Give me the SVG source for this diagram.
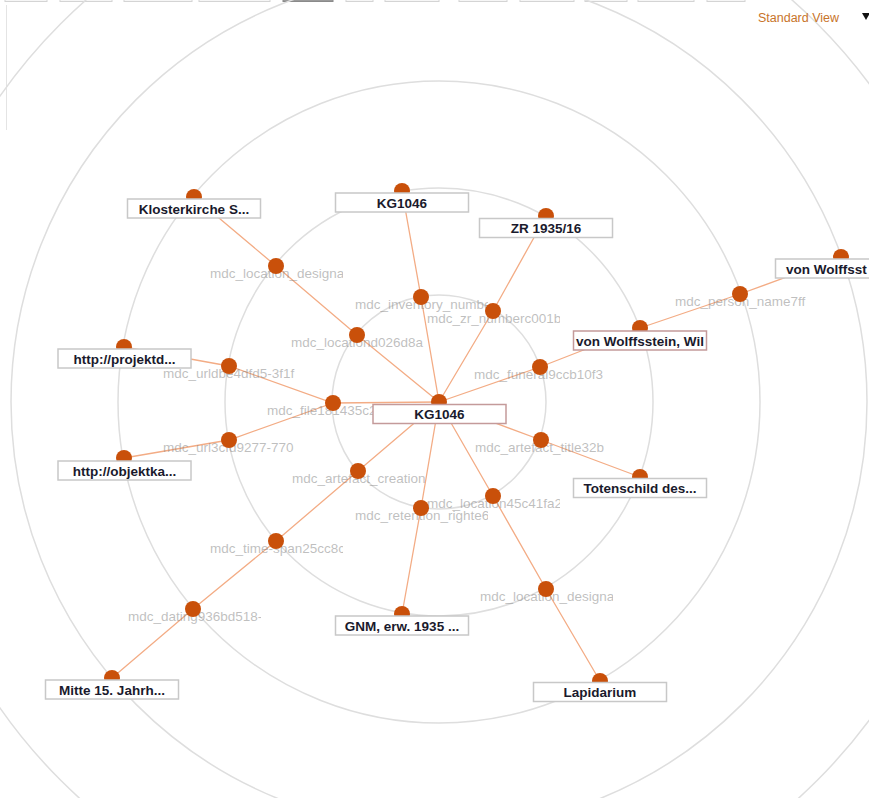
<svg xmlns="http://www.w3.org/2000/svg" width="869" height="798" viewBox="0 0 869 798">
<style>
.ring{fill:none;stroke:#dedede;stroke-width:1.5}
.edge{stroke:#f3ac85;stroke-width:1.3;fill:none}
.dot{fill:#c9500a}
.box{fill:#fff;stroke:#c8c8c8;stroke-width:1.5}
.sel{fill:#fff;stroke:#c49a9a;stroke-width:1.5}
.bl{font-family:"Liberation Sans",Arial,sans-serif;font-size:13.5px;font-weight:bold;fill:#1a1a2c;text-anchor:middle}
.gl{font-family:"Liberation Sans",Arial,sans-serif;font-size:13.5px;fill:#808080;fill-opacity:0.5}
.tab{fill:#f6f6f6;stroke:#d4d4d4;stroke-width:1}
</style>
<rect x="0" y="0" width="869" height="798" fill="#fff"/>
<g id="tabs">
<rect class="tab" x="5" y="-4" width="42" height="5.5"/>
<rect class="tab" x="60" y="-4" width="52" height="5.5"/>
<rect class="tab" x="124" y="-4" width="68" height="5.5"/>
<rect class="tab" x="199" y="-4" width="71" height="5.5"/>
<rect x="283" y="-4" width="50" height="5.5" fill="#9a9a9a" stroke="#8a8a8a"/>
<rect class="tab" x="346" y="-4" width="27" height="5.5"/>
<rect class="tab" x="385" y="-4" width="54" height="5.5"/>
<rect class="tab" x="459" y="-4" width="48" height="5.5"/>
<rect class="tab" x="520" y="-4" width="54" height="5.5"/>
<rect class="tab" x="585" y="-4" width="42" height="5.5"/>
<rect class="tab" x="638" y="-4" width="56" height="5.5"/>
<rect class="tab" x="707" y="-4" width="38" height="5.5"/>
</g>
<line x1="6.5" y1="5" x2="6.5" y2="130" stroke="#e4e4e4" stroke-width="1"/>
<g id="rings">
<circle class="ring" cx="439" cy="402" r="107"/>
<circle class="ring" cx="439" cy="402" r="214"/>
<circle class="ring" cx="439" cy="402" r="321"/>
<circle class="ring" cx="439" cy="402" r="428"/>
<circle class="ring" cx="439" cy="402" r="535"/>
</g>
<g id="connectors">
<path class="edge" d="M439,402 L421,297 L402,191"/>
<path class="edge" d="M439,402 L493,311 L546,216"/>
<path class="edge" d="M439,402 L357,335 L276,266 L194,197"/>
<path class="edge" d="M439,402 L540,367 L640,328 L740,294 L841,257"/>
<path class="edge" d="M439,402 L333,403 L229,366 L124,347"/>
<path class="edge" d="M333,403 L229,440 L124,458"/>
<path class="edge" d="M439,402 L541,440 L640,477"/>
<path class="edge" d="M439,402 L493,496 L546,589 L600,681"/>
<path class="edge" d="M439,402 L421,508 L402,614"/>
<path class="edge" d="M439,402 L358,471 L276,541 L193,609 L112,678"/>
</g>
<g id="n-inventory"><svg x="355" y="297" width="133" height="18"><text class="gl" x="0" y="12">mdc_inventory_numbe</text></svg><circle class="dot" cx="421" cy="297" r="8"/></g>
<g id="n-zr"><svg x="427" y="311" width="133" height="18"><text class="gl" x="0" y="12">mdc_zr_numberc001b</text></svg><circle class="dot" cx="493" cy="311" r="8"/></g>
<g id="n-location1"><svg x="291" y="335" width="133" height="18"><text class="gl" x="0" y="12">mdc_locationd026d8a</text></svg><circle class="dot" cx="357" cy="335" r="8"/></g>
<g id="n-funeral"><svg x="474" y="367" width="133" height="18"><text class="gl" x="0" y="12">mdc_funeral9ccb10f3</text></svg><circle class="dot" cx="540" cy="367" r="8"/></g>
<g id="n-file"><svg x="267" y="403" width="133" height="18"><text class="gl" x="0" y="12">mdc_file181435c2</text></svg><circle class="dot" cx="333" cy="403" r="8"/></g>
<g id="n-title"><svg x="475" y="440" width="133" height="18"><text class="gl" x="0" y="12">mdc_artefact_title32b</text></svg><circle class="dot" cx="541" cy="440" r="8"/></g>
<g id="n-location2"><svg x="427" y="496" width="133" height="18"><text class="gl" x="0" y="12">mdc_location45c41fa2</text></svg><circle class="dot" cx="493" cy="496" r="8"/></g>
<g id="n-retention"><svg x="355" y="508" width="133" height="18"><text class="gl" x="0" y="12">mdc_retention_righte6</text></svg><circle class="dot" cx="421" cy="508" r="8"/></g>
<g id="n-creation"><svg x="292" y="471" width="133" height="18"><text class="gl" x="0" y="12">mdc_artefact_creation</text></svg><circle class="dot" cx="358" cy="471" r="8"/></g>
<g id="n-designation1"><svg x="210" y="266" width="133" height="18"><text class="gl" x="0" y="12">mdc_location_designa</text></svg><circle class="dot" cx="276" cy="266" r="8"/></g>
<g id="n-urldb"><svg x="163" y="366" width="133" height="18"><text class="gl" x="0" y="12">mdc_urldbe4dfd5-3f1f</text></svg><circle class="dot" cx="229" cy="366" r="8"/></g>
<g id="n-url3c"><svg x="163" y="440" width="133" height="18"><text class="gl" x="0" y="12">mdc_url3cfd9277-770</text></svg><circle class="dot" cx="229" cy="440" r="8"/></g>
<g id="n-designation2"><svg x="480" y="589" width="133" height="18"><text class="gl" x="0" y="12">mdc_location_designa</text></svg><circle class="dot" cx="546" cy="589" r="8"/></g>
<g id="n-timespan"><svg x="210" y="541" width="133" height="18"><text class="gl" x="0" y="12">mdc_time-span25cc8c</text></svg><circle class="dot" cx="276" cy="541" r="8"/></g>
<g id="n-person"><svg x="675" y="294" width="133" height="18"><text class="gl" x="0" y="12">mdc_person_name7ff</text></svg><circle class="dot" cx="740" cy="294" r="8"/></g>
<g id="n-dating"><svg x="128" y="609" width="133" height="18"><text class="gl" x="0" y="12">mdc_dating936bd518-</text></svg><circle class="dot" cx="193" cy="609" r="8"/></g>
<g id="n-kg-top"><circle class="dot" cx="402" cy="191" r="8"/><rect class="box" x="335.5" y="193" width="133" height="19"/><text class="bl" x="402" y="207.5">KG1046</text></g>
<g id="n-zr-value"><circle class="dot" cx="546" cy="216" r="8"/><rect class="box" x="479.5" y="218.5" width="133" height="19"/><text class="bl" x="546" y="233">ZR 1935/16</text></g>
<g id="n-kloster"><circle class="dot" cx="194" cy="197" r="8"/><rect class="box" x="127.5" y="199" width="133" height="19"/><text class="bl" x="194" y="213.5">Klosterkirche S...</text></g>
<g id="n-wolff1"><circle class="dot" cx="640" cy="328" r="8"/><rect class="sel" x="573.5" y="331" width="133" height="19"/><text class="bl" x="640" y="345.5">von Wolffsstein, Wil</text></g>
<g id="n-wolff2"><circle class="dot" cx="841" cy="257" r="8"/><rect class="box" x="775.5" y="259" width="133" height="19"/><text class="bl" x="786" y="273.5" style="text-anchor:start">von Wolffsst</text></g>
<g id="n-projekt"><circle class="dot" cx="124" cy="347" r="8"/><rect class="box" x="58" y="349" width="133" height="19"/><text class="bl" x="124.5" y="363.5">http://projektd...</text></g>
<g id="n-objekt"><circle class="dot" cx="124" cy="458" r="8"/><rect class="box" x="58" y="461" width="133" height="19"/><text class="bl" x="124.5" y="475.5">http://objektka...</text></g>
<g id="n-toten"><circle class="dot" cx="640" cy="477" r="8"/><rect class="box" x="573.5" y="478.5" width="133" height="19"/><text class="bl" x="640" y="493">Totenschild des...</text></g>
<g id="n-gnm"><circle class="dot" cx="402" cy="614" r="8"/><rect class="box" x="335.5" y="616" width="133" height="19"/><text class="bl" x="402" y="630.5">GNM, erw. 1935 ...</text></g>
<g id="n-lapidarium"><circle class="dot" cx="600" cy="681" r="8"/><rect class="box" x="533.5" y="682.5" width="133" height="19"/><text class="bl" x="600" y="697">Lapidarium</text></g>
<g id="n-mitte"><circle class="dot" cx="112" cy="678" r="8"/><rect class="box" x="45.5" y="680" width="133" height="19"/><text class="bl" x="112" y="694.5">Mitte 15. Jahrh...</text></g>
<g id="n-center"><circle class="dot" cx="439" cy="402" r="8"/><rect class="sel" x="373" y="404.5" width="133" height="19"/><text class="bl" x="439.5" y="419">KG1046</text></g>
<g id="view-menu">
<text x="758" y="22" font-family="Liberation Sans, Arial, sans-serif" font-size="12.5" fill="#c8742a">Standard View</text>
<polygon points="862,13 870,13 866,20" fill="#111"/>
</g>
</svg>
